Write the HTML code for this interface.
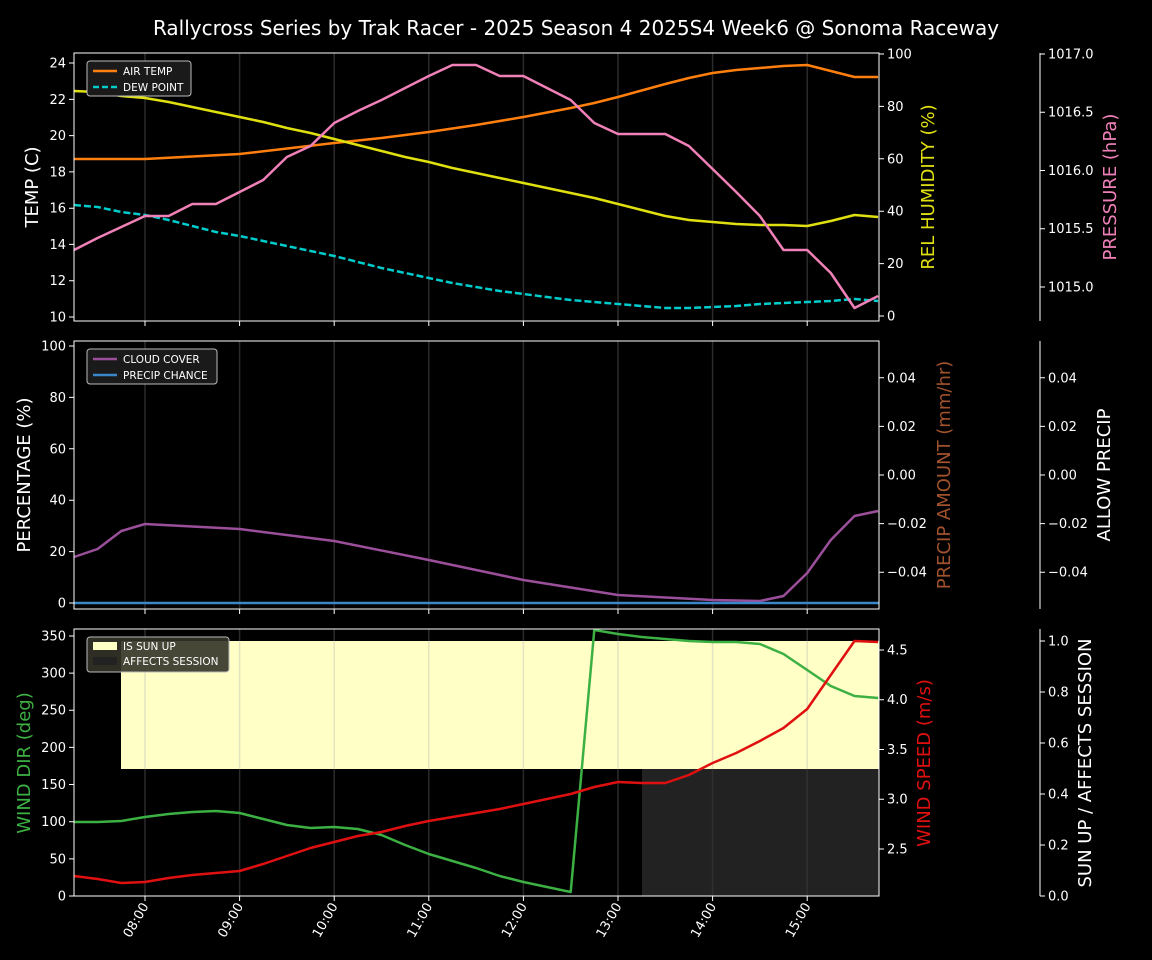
<!DOCTYPE html>
<html><head><meta charset="utf-8"><style>
body{margin:0;background:#000;width:1152px;height:960px;overflow:hidden}
svg{display:block;font-family:"DejaVu Sans","Liberation Sans",sans-serif}
</style></head><body>
<svg width="1152" height="960" xmlns="http://www.w3.org/2000/svg">
<rect width="1152" height="960" fill="#000"/>
<text x="576" y="35" fill="#fff" font-size="20" text-anchor="middle">Rallycross Series by Trak Racer - 2025 Season 4 2025S4 Week6 @ Sonoma Raceway</text>
<rect x="121" y="641" width="758" height="128" fill="#ffffc6"/>
<rect x="642" y="769" width="237" height="127" fill="#222"/>
<g stroke="#2a2a2a" stroke-width="1.5">
<path d="M145,53V321M239.6,53V321M334.2,53V321M428.8,53V321M523.4,53V321M618,53V321M712.6,53V321M807.2,53V321"/>
<path d="M145,341V609M239.6,341V609M334.2,341V609M428.8,341V609M523.4,341V609M618,341V609M712.6,341V609M807.2,341V609"/>
<path d="M145,629V641M239.6,629V641M334.2,629V641M428.8,629V641M523.4,629V641M618,629V641M712.6,629V641M807.2,629V641M145,769V896M239.6,769V896M334.2,769V896M428.8,769V896M523.4,769V896M618,769V896"/>
</g>
<g stroke="#e4e4c0" stroke-width="1.5">
<path d="M145,641V769M239.6,641V769M334.2,641V769M428.8,641V769M523.4,641V769M618,641V769M712.6,641V769M807.2,641V769"/>
</g>
<g stroke="#303030" stroke-width="1.5"><path d="M712.6,769V896M807.2,769V896"/></g>
<g fill="none" stroke-width="2.5" stroke-linejoin="round">
<polyline stroke="#ff7f0e" points="74,159 145,159 239.6,154 334.2,143 381.5,138 428.8,132 476.1,125 523.4,117 570.7,108 594.3,103 618,97 665.3,84 688.9,78 712.6,73 736.2,70 759.9,68 783.5,66 807.2,65 830.8,71 854.5,77 878.1,77"/>
<polyline stroke="#e0e010" points="74,91 97.6,92 121.3,96 145,98 168.6,102 192.3,107 215.9,112 239.6,117 263.2,122 286.9,128 310.5,133 334.2,139 357.8,145 381.5,151 405.1,157 428.8,162 452.4,168 476.1,173 499.7,178 523.4,183 547,188 570.7,193 594.3,198 618,204 641.6,210 665.3,216 688.9,220 712.6,222 736.2,224 759.9,225 783.5,225 807.2,226 830.8,221 854.5,215 878.1,217"/>
<polyline stroke="#00cccc" stroke-dasharray="7,3" points="74,205 97.6,207 121.3,212 145,215 168.6,220 192.3,226 215.9,232 239.6,236 263.2,241 286.9,246 310.5,251 334.2,256 357.8,262 381.5,268 405.1,273 428.8,278 452.4,283 476.1,287 499.7,291 523.4,294 547,297 570.7,300 594.3,302 618,304 641.6,306 665.3,308 688.9,308 712.6,307 736.2,306 759.9,304 783.5,303 807.2,302 830.8,301 854.5,299 878.1,301"/>
<polyline stroke="#f080b8" points="74,250 97.6,238 121.3,227 145,216 168.6,216 192.3,204 215.9,204 239.6,192 263.2,180 286.9,157 310.5,146 334.2,123 357.8,111 381.5,100 405.1,88 428.8,76 452.4,65 476.1,65 499.7,76 523.4,76 547,88 570.7,100 594.3,123 618,134 641.6,134 665.3,134 688.9,146 712.6,169 736.2,192 759.9,216 783.5,250 807.2,250 830.8,273 854.5,308 878.1,296"/>
<polyline stroke="#9b4f9b" points="74,557 97.6,549 121.3,531 145,524 239.6,529 334.2,541 428.8,560 523.4,580 618,595 712.6,600 759.9,601 783.5,596 807.2,573 830.8,540 854.5,516 878.1,511"/>
<line x1="74" y1="603" x2="879" y2="603" stroke="#3a86c8"/>
<polyline stroke="#3cb043" points="74,822 97.6,822 121.3,821 145,817 168.6,814 192.3,812 215.9,811 239.6,813 263.2,819 286.9,825 310.5,828 334.2,827 357.8,829 381.5,835 405.1,845 428.8,854 452.4,861 476.1,868 499.7,876 523.4,882 547,887 570.7,892 594.3,630 618,634 641.6,637 665.3,639 688.9,641 712.6,642 736.2,642 759.9,644 783.5,654 807.2,670 830.8,686 854.5,696 878.1,698"/>
<polyline stroke="#e01010" points="74,876 97.6,879 121.3,883 145,882 168.6,878 192.3,875 215.9,873 239.6,871 263.2,864 286.9,856 310.5,848 334.2,842 357.8,836 381.5,832 405.1,826 428.8,821 452.4,817 476.1,813 499.7,809 523.4,804 547,799 570.7,794 594.3,787 618,782 641.6,783 665.3,783 688.9,775 712.6,763 736.2,753 759.9,741 783.5,728 807.2,709 830.8,675 854.5,641 878.1,642"/>
</g>
<g fill="none" stroke="#fff" stroke-width="1">
<rect x="74" y="53" width="805" height="268"/>
<rect x="74" y="341" width="805" height="268"/>
<rect x="74" y="629" width="805" height="267"/>
<path d="M1040,53V321M1040,341V609M1040,629V896"/>
<path d="M145,896v5M239.6,896v5M334.2,896v5M428.8,896v5M523.4,896v5M618,896v5M712.6,896v5M807.2,896v5M145,321v5M239.6,321v5M334.2,321v5M428.8,321v5M523.4,321v5M618,321v5M712.6,321v5M807.2,321v5M145,609v5M239.6,609v5M334.2,609v5M428.8,609v5M523.4,609v5M618,609v5M712.6,609v5M807.2,609v5"/>
<path d="M74,317h-5M74,280.7h-5M74,244.4h-5M74,208.2h-5M74,171.9h-5M74,135.6h-5M74,99.4h-5M74,63h-5
M879,316h5M879,263.6h5M879,211.2h5M879,158.8h5M879,106.4h5M879,54h5
M1040,287h5M1040,228.75h5M1040,170.5h5M1040,112.25h5M1040,54h5
M74,603h-5M74,551.6h-5M74,500.2h-5M74,448.8h-5M74,397.4h-5M74,346h-5
M879,572.2h5M879,523.6h5M879,475h5M879,426.4h5M879,377.8h5
M1040,572.2h5M1040,523.6h5M1040,475h5M1040,426.4h5M1040,377.8h5
M74,896h-5M74,858.85h-5M74,821.7h-5M74,784.55h-5M74,747.4h-5M74,710.25h-5M74,673.1h-5M74,635.95h-5
M879,849h5M879,799.25h5M879,749.5h5M879,699.75h5M879,650h5
M1040,896h5M1040,845h5M1040,794h5M1040,743h5M1040,692h5M1040,641h5"/>
</g>
<g fill="#fff" font-size="13">
<g text-anchor="end">
<text x="66" y="321.5">10</text><text x="66" y="285.2">12</text><text x="66" y="248.9">14</text><text x="66" y="212.7">16</text><text x="66" y="176.4">18</text><text x="66" y="140.1">20</text><text x="66" y="103.9">22</text><text x="66" y="67.5">24</text>
<text x="66" y="607.5">0</text><text x="66" y="556.1">20</text><text x="66" y="504.7">40</text><text x="66" y="453.3">60</text><text x="66" y="401.9">80</text><text x="66" y="350.5">100</text>
<text x="66" y="900.5">0</text><text x="66" y="863.4">50</text><text x="66" y="826.2">100</text><text x="66" y="789">150</text><text x="66" y="751.9">200</text><text x="66" y="714.7">250</text><text x="66" y="677.6">300</text><text x="66" y="640.5">350</text>
<text transform="translate(149,906) rotate(-60)">08:00</text><text transform="translate(243.6,906) rotate(-60)">09:00</text><text transform="translate(338.2,906) rotate(-60)">10:00</text><text transform="translate(432.8,906) rotate(-60)">11:00</text><text transform="translate(527.4,906) rotate(-60)">12:00</text><text transform="translate(622,906) rotate(-60)">13:00</text><text transform="translate(716.6,906) rotate(-60)">14:00</text><text transform="translate(811.2,906) rotate(-60)">15:00</text>
</g>
<text x="887" y="320.5">0</text><text x="887" y="268.1">20</text><text x="887" y="215.7">40</text><text x="887" y="163.3">60</text><text x="887" y="110.9">80</text><text x="887" y="58.5">100</text>
<text x="1048" y="291.5">1015.0</text><text x="1048" y="233.2">1015.5</text><text x="1048" y="175">1016.0</text><text x="1048" y="116.7">1016.5</text><text x="1048" y="58.5">1017.0</text>
<text x="887" y="576.7">−0.04</text><text x="887" y="528.1">−0.02</text><text x="887" y="479.5">0.00</text><text x="887" y="430.9">0.02</text><text x="887" y="382.3">0.04</text>
<text x="1048" y="576.7">−0.04</text><text x="1048" y="528.1">−0.02</text><text x="1048" y="479.5">0.00</text><text x="1048" y="430.9">0.02</text><text x="1048" y="382.3">0.04</text>
<text x="887" y="853.5">2.5</text><text x="887" y="803.7">3.0</text><text x="887" y="754">3.5</text><text x="887" y="704.2">4.0</text><text x="887" y="654.5">4.5</text>
<text x="1048" y="900.5">0.0</text><text x="1048" y="849.5">0.2</text><text x="1048" y="798.5">0.4</text><text x="1048" y="747.5">0.6</text><text x="1048" y="696.5">0.8</text><text x="1048" y="645.5">1.0</text>
</g>
<g font-size="18">
<text transform="translate(38,187) rotate(-90)" fill="#fff" text-anchor="middle">TEMP (C)</text>
<text transform="translate(934,187) rotate(-90)" fill="#e0e010" text-anchor="middle">REL HUMIDITY (%)</text>
<text transform="translate(1116,187) rotate(-90)" fill="#f080b8" text-anchor="middle">PRESSURE (hPa)</text>
<text transform="translate(30,475) rotate(-90)" fill="#fff" text-anchor="middle">PERCENTAGE (%)</text>
<text transform="translate(950,475) rotate(-90)" fill="#a0522d" text-anchor="middle">PRECIP AMOUNT (mm/hr)</text>
<text transform="translate(1110,475) rotate(-90)" fill="#fff" text-anchor="middle">ALLOW PRECIP</text>
<text transform="translate(30,763) rotate(-90)" fill="#3cb043" text-anchor="middle">WIND DIR (deg)</text>
<text transform="translate(930,763) rotate(-90)" fill="#e01010" text-anchor="middle">WIND SPEED (m/s)</text>
<text transform="translate(1091,763) rotate(-90)" fill="#fff" text-anchor="middle">SUN UP / AFFECTS SESSION</text>
</g>
<g font-size="10.5" fill="#fff">
<rect x="87" y="61" width="104" height="35" rx="3" fill="#1a1a1a" stroke="#bbb"/>
<line x1="93" y1="71" x2="117" y2="71" stroke="#ff7f0e" stroke-width="2.5"/><text x="123" y="75">AIR TEMP</text>
<line x1="93" y1="87" x2="117" y2="87" stroke="#00cccc" stroke-width="2.5" stroke-dasharray="6,3"/><text x="123" y="91">DEW POINT</text>
<rect x="87" y="349" width="130" height="35" rx="3" fill="#1a1a1a" stroke="#bbb"/>
<line x1="93" y1="359" x2="117" y2="359" stroke="#9b4f9b" stroke-width="2.5"/><text x="123" y="363">CLOUD COVER</text>
<line x1="93" y1="375" x2="117" y2="375" stroke="#3a86c8" stroke-width="2.5"/><text x="123" y="379">PRECIP CHANCE</text>
<rect x="87" y="637" width="142" height="35" rx="3" fill="#333328" fill-opacity="0.9" stroke="#bbb"/>
<rect x="93" y="642" width="24" height="8" fill="#ffffc6"/><text x="123" y="650">IS SUN UP</text>
<rect x="93" y="657" width="24" height="8" fill="#222"/><text x="123" y="665">AFFECTS SESSION</text>
</g>
</svg>
</body></html>
